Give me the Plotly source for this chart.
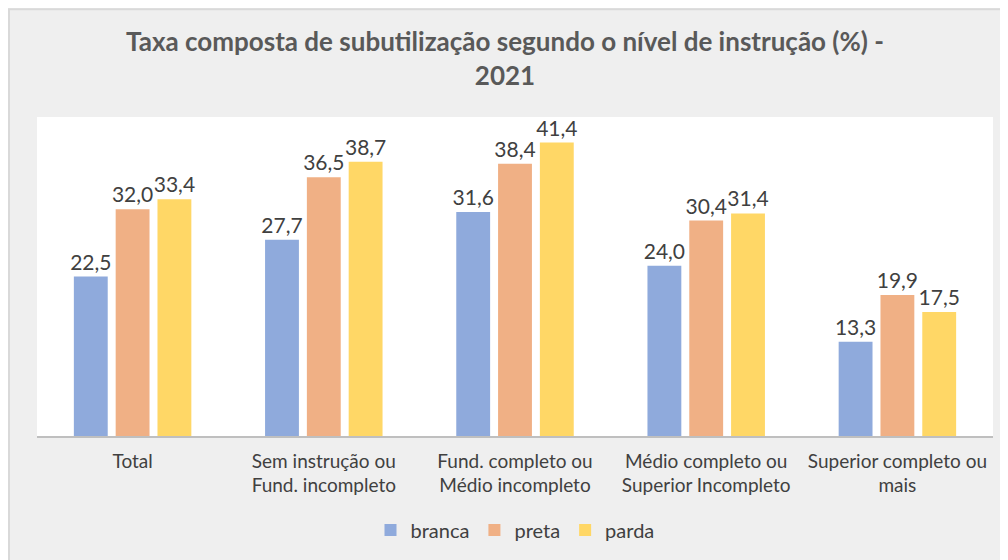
import plotly.graph_objects as go

categories = ["Total", "Sem instrução ou<br>Fund. incompleto", "Fund. completo ou<br>Médio incompleto",
              "Médio completo ou<br>Superior Incompleto", "Superior completo ou<br>mais"]
branca = [22.5, 27.7, 31.6, 24.0, 13.3]
preta = [32.0, 36.5, 38.4, 30.4, 19.9]
parda = [33.4, 38.7, 41.4, 31.4, 17.5]
series = [("branca", branca, "#8faadc"), ("preta", preta, "#f0b085"), ("parda", parda, "#ffd766")]

fig = go.Figure()
for name, vals, color in series:
    fig.add_trace(go.Bar(
        name=name, x=categories, y=vals, marker=dict(color=color, line=dict(width=0)),
        text=[f"{v:.1f}".replace(".", ",") for v in vals], textposition="outside",
        textfont=dict(size=21, color="#404040", family="Lato"), cliponaxis=False,
        constraintext="none",
    ))

# page has an 8px body margin; figure spans page x 8..1008, y 8..560
W, H = 1000, 552
l, r, t, b = 29, 15, 109, 123
pw, ph = W - l - r, H - t - b

def px(x):
    return (x - l) / pw

def py(y):
    return (H - b - y) / ph

fig.add_shape(type="rect", xref="paper", yref="paper", x0=px(1), x1=px(1010), y0=py(1), y1=py(560),
              fillcolor="rgba(0,0,0,0)", line=dict(color="#d9d9d9", width=2), layer="above")

fig.update_layout(
    width=W, height=H, margin=dict(l=l, r=r, t=t, b=b),
    paper_bgcolor="#efefef", plot_bgcolor="white",
    barmode="group", bargap=0.344, bargroupgap=0.19,
    title=dict(text="<b>Taxa composta de subutilização segundo o nível de instrução (%) -<br>2021</b>",
               x=0.497, xref="container", y=1 - 43 / H, yanchor="middle",
               font=dict(family="Lato", size=26, color="#595959")),
    font=dict(family="Lato", color="#404040"),
    showlegend=True,
    legend=dict(orientation="h", x=0.5, xanchor="center", y=py(522), yanchor="middle",
                font=dict(size=20, color="#404040"), bgcolor="rgba(0,0,0,0)", traceorder="normal",
                itemwidth=30),
    xaxis=dict(showline=True, linecolor="#bfbfbf", linewidth=1.5, tickfont=dict(size=19, color="#404040"),
               ticks="", showgrid=False, ticklabelstandoff=7),
    yaxis=dict(range=[0, 45], visible=False, showgrid=False),
)
fig.write_html("out.html")
